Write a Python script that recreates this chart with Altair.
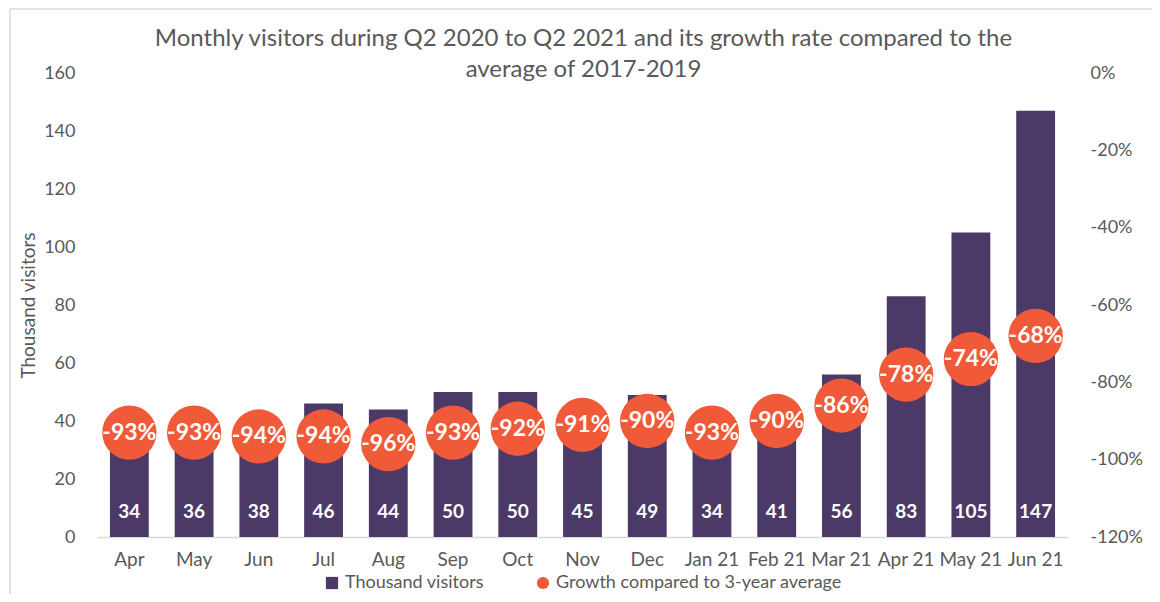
import altair as alt
import pandas as pd

months = ["Apr", "May", "Jun", "Jul", "Aug", "Sep", "Oct", "Nov", "Dec",
          "Jan 21", "Feb 21", "Mar 21", "Apr 21", "May 21", "Jun 21"]
visitors = [34, 36, 38, 46, 44, 50, 50, 45, 49, 34, 41, 56, 83, 105, 147]
growth = [-93, -93, -94, -94, -96, -93, -92, -91, -90, -93, -90, -86, -78, -74, -68]
title_lines = ["Monthly visitors during Q2 2020 to Q2 2021 and its growth rate compared to the",
               "average of 2017-2019"]

S1 = "Thousand visitors"
S2 = "Growth compared to 3-year average"
PURPLE = "#4B3A67"
ORANGE = "#F05A38"
GRAY = "#595959"
FONT = "Lato"

df = pd.DataFrame({
    "month": months,
    "visitors": visitors,
    "zero": [0] * len(months),
    "growth": [g / 100 for g in growth],
    "glabel": [f"{g}%" for g in growth],
    "s1": S1,
    "s2": S2,
})

x = alt.X("month:N", sort=months, title=None,
          scale=alt.Scale(paddingInner=0.4, paddingOuter=0.2),
          axis=alt.Axis(labelAngle=0, labelFontSize=19, labelColor=GRAY, labelFont=FONT,
                        labelPadding=13, ticks=False, domainColor="#D9D9D9", domainWidth=1.5))

leg = alt.Legend(title=None, orient="none", direction="horizontal", legendX=226, legendY=501,
                 labelFontSize=18, labelColor=GRAY, labelFont=FONT, labelLimit=0,
                 symbolSize=150, columnPadding=50, symbolStrokeWidth=0, labelOffset=4)
cscale = alt.Scale(domain=[S1, S2], range=[PURPLE, ORANGE])
sscale = alt.Scale(domain=[S1, S2], range=["square", "circle"])

yleft = alt.Scale(domain=[0, 160])
yright = alt.Scale(domain=[-1.2, 0])
left_axis = alt.Axis(values=list(range(0, 161, 20)), grid=False, domain=False, ticks=False,
                     labelFontSize=18, labelColor=GRAY, labelFont=FONT, labelPadding=22,
                     titleFontSize=19, titleColor=GRAY, titleFont=FONT,
                     titleFontWeight="normal", titlePadding=5)
right_axis = alt.Axis(orient="right", values=[-1.2, -1.0, -0.8, -0.6, -0.4, -0.2, 0],
                      format=".0%", labelExpr="replace(datum.label, '\u2212', '-')",
                      grid=False, domain=False, ticks=False,
                      labelFontSize=18, labelColor=GRAY, labelFont=FONT, labelPadding=22)

bars = alt.Chart(df).mark_bar(color=PURPLE).encode(
    x=x,
    y=alt.Y("visitors:Q", scale=yleft, title="Thousand visitors", axis=left_axis),
    color=alt.Color("s1:N", scale=cscale, legend=leg),
    shape=alt.Shape("s1:N", scale=sscale, legend=leg),
)

bar_text = alt.Chart(df).mark_text(color="white", fontWeight="bold", fontSize=19, font=FONT,
                                   baseline="middle", dy=-25).encode(
    x=x,
    y=alt.Y("zero:Q", scale=yleft, title="Thousand visitors", axis=left_axis),
    text="visitors:Q",
)

left = alt.layer(bars, bar_text)

points = alt.Chart(df).mark_point(filled=True, opacity=1, size=2950).encode(
    x=x,
    y=alt.Y("growth:Q", scale=yright, title=None, axis=right_axis),
    color=alt.Color("s2:N", scale=cscale, legend=leg),
    shape=alt.Shape("s2:N", scale=sscale, legend=leg),
)

point_text = alt.Chart(df).mark_text(color="white", fontWeight="bold", fontSize=23, font=FONT,
                                     baseline="middle").encode(
    x=x,
    y=alt.Y("growth:Q", scale=yright, title=None, axis=right_axis),
    text="glabel:N",
)

right = alt.layer(points, point_text)

one = pd.DataFrame({"k": [0]})
frame_top = alt.Chart(one).mark_rule(color="#D9D9D9", strokeWidth=1.5).encode(
    x=alt.value(-87), x2=alt.value(1100), y=alt.value(-64))
frame_left = alt.Chart(one).mark_rule(color="#D9D9D9", strokeWidth=1.5).encode(
    x=alt.value(-87), y=alt.value(-64), y2=alt.value(540))
title1 = alt.Chart(one).mark_text(fontSize=24, font=FONT, color=GRAY, align="center",
                                  baseline="alphabetic").encode(
    x=alt.value(486.5), y=alt.value(-27), text=alt.value(title_lines[0]))
title2 = alt.Chart(one).mark_text(fontSize=24, font=FONT, color=GRAY, align="center",
                                  baseline="alphabetic").encode(
    x=alt.value(486.5), y=alt.value(4), text=alt.value(title_lines[1]))

chart = alt.layer(frame_top, frame_left, title1, title2, left, right).resolve_scale(
    y="independent").properties(
    width=971, height=464,
    background="white",
    autosize=alt.AutoSizeParams(type="none"),
    padding={"left": 89, "top": 65, "right": 84, "bottom": 57},
).configure_view(stroke=None)

chart.save("out.html", embed_options={"renderer": "svg", "actions": False})
